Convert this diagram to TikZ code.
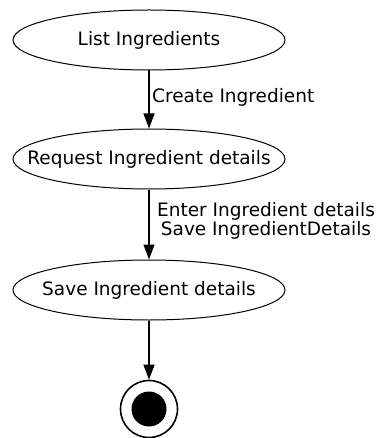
\documentclass[tikz,border=0pt]{standalone}
\usepackage{fontspec}
\setmainfont{DejaVu Sans}
\usetikzlibrary{shapes.geometric,arrows.meta}
\begin{document}
\begin{tikzpicture}[x=1pt,y=-1pt,
  state/.style={ellipse,draw,line width=1pt,minimum width=272pt,minimum height=60pt,inner sep=0pt,font=\fontsize{18.5}{21}\selectfont},
  flow/.style={draw,line width=1.2pt,-{Triangle[length=15pt,width=11pt]}},
  lbl/.style={font=\fontsize{18.5}{19.5}\selectfont,inner sep=0pt}]
\useasboundingbox (0,0) rectangle (379,438);
% activity states: the text is boxed at zero width so every ellipse keeps one size
\node[state] (list) at (149,40) {\makebox[0pt]{List Ingredients}};
\node[state] (req) at (149,159) {\makebox[0pt]{Request Ingredient details}};
\node[state] (save) at (149,290) {\makebox[0pt]{Save Ingredient details}};
% final state
\node[circle,draw,line width=1.6pt,minimum size=57pt,inner sep=0pt] (end) at (149,409) {};
\node[circle,fill=black,minimum size=35pt,inner sep=0pt] (endin) at (end.center) {};
\draw[flow] (list) -- (req);
\draw[flow] (req) -- (save);
\draw[flow] (save) -- (end);
\node[lbl,anchor=west] (l1) at (152,97) {Create Ingredient};
\node[lbl,align=center] (l2) at (266,221) {Enter Ingredient details\\Save IngredientDetails};
\end{tikzpicture}
\end{document}
